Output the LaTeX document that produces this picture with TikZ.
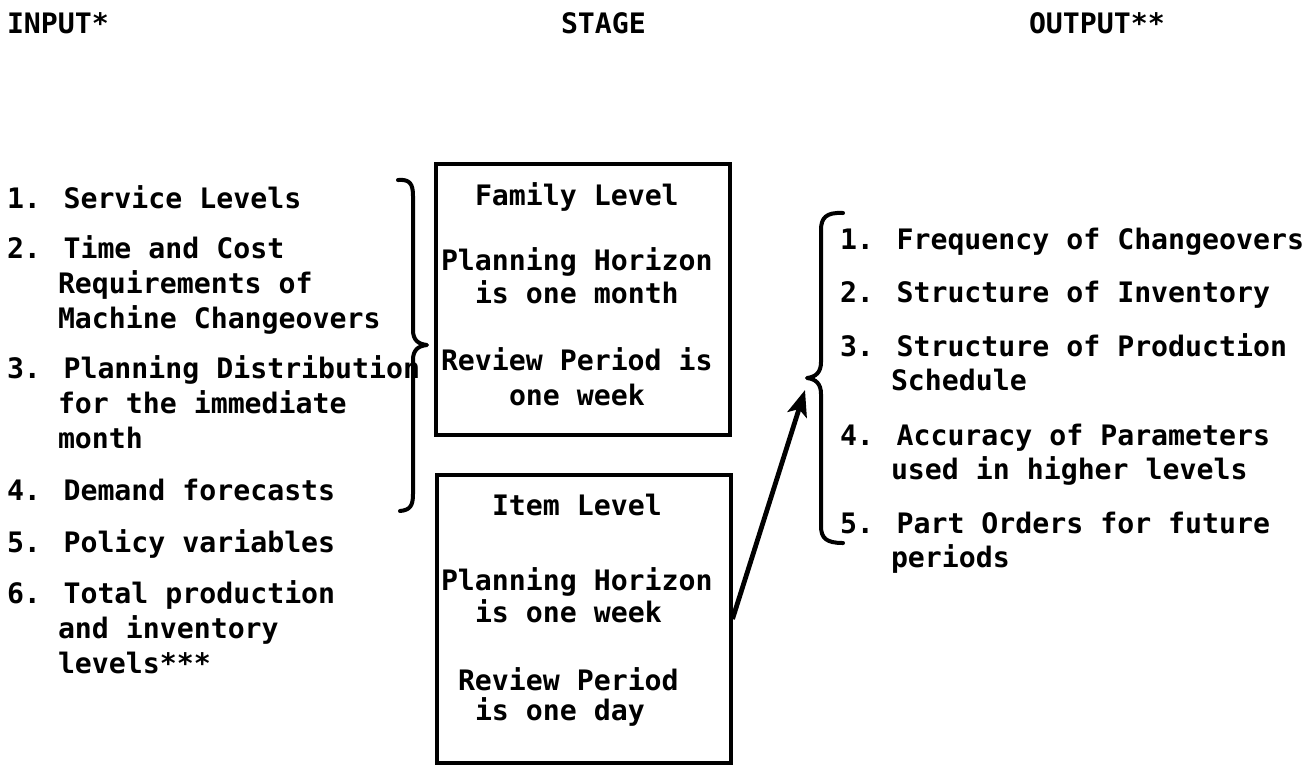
\documentclass[tikz,border=0pt]{standalone}
\usepackage{fontspec}
\usetikzlibrary{arrows.meta}
\newfontfamily\typewriter{DejaVu Sans Mono}
\begin{document}
\begin{tikzpicture}[x=0.5pt,y=-0.5pt,
  txt/.style={anchor=base west, inner sep=0pt, outer sep=0pt,
    font=\typewriter\bfseries\fontsize{14.1}{17}\selectfont},
  stagebox/.style={draw, line width=2pt, inner sep=0pt, minimum width=147pt},
  bracket/.style={line width=2pt, line cap=round, line join=round},
  link/.style={line width=2.4pt, -{Stealth[length=13pt,width=10pt,inset=3pt]}}]

\fill[white] (0,0) rectangle (1316,768);

% column headings
\node[txt] (hin)  at (7,33)    {INPUT*};
\node[txt] (hst)  at (561,33)  {STAGE};
\node[txt] (hout) at (1029,33) {OUTPUT**};

% inputs
\node[txt] (in1)  at (7,208)  {1. Service Levels};
\node[txt] (in2)  at (7,258)  {2. Time and Cost};
\node[txt] (in2b) at (58,293) {Requirements of};
\node[txt] (in2c) at (58,328) {Machine Changeovers};
\node[txt] (in3)  at (7,378)  {3. Planning Distribution};
\node[txt] (in3b) at (58,413) {for the immediate};
\node[txt] (in3c) at (58,448) {month};
\node[txt] (in4)  at (7,500)  {4. Demand forecasts};
\node[txt] (in5)  at (7,552)  {5. Policy variables};
\node[txt] (in6)  at (7,603)  {6. Total production};
\node[txt] (in6b) at (58,638) {and inventory};
\node[txt] (in6c) at (58,673) {levels***};

% stages
\node[stagebox, minimum height=135.5pt] (family) at (583,299.5) {};
\node[stagebox, minimum height=144pt]   (item)   at (583.5,619) {};

\node[txt] (fam1) at (475,205) {Family Level};
\node[txt] (fam2) at (441,270) {Planning Horizon};
\node[txt] (fam3) at (475,303) {is one month};
\node[txt] (fam4) at (441,370) {Review Period is};
\node[txt] (fam5) at (509,405) {one week};

\node[txt] (itm1) at (492,515) {Item Level};
\node[txt] (itm2) at (441,590) {Planning Horizon};
\node[txt] (itm3) at (475,622) {is one week};
\node[txt] (itm4) at (458,690) {Review Period};
\node[txt] (itm5) at (475,720) {is one day};

% outputs
\node[txt] (out1)  at (840,249) {1. Frequency of Changeovers};
\node[txt] (out2)  at (840,302) {2. Structure of Inventory};
\node[txt] (out3)  at (840,356) {3. Structure of Production};
\node[txt] (out3b) at (891,390) {Schedule};
\node[txt] (out4)  at (840,445) {4. Accuracy of Parameters};
\node[txt] (out4b) at (891,479) {used in higher levels};
\node[txt] (out5)  at (840,533) {5. Part Orders for future};
\node[txt] (out5b) at (891,567) {periods};

% brace gathering inputs 1-4
\draw[bracket] (398,180) .. controls (410,179) and (413,184) .. (413,196)
  -- (413,330) .. controls (413,340) and (418,344) .. (427,345)
  .. controls (418,346) and (413,350) .. (413,360)
  -- (413,494) .. controls (413,506) and (410,510) .. (400,511);

% brace gathering the outputs
\coordinate (outtip) at (807,378);
\draw[bracket] (843,213) .. controls (826,212) and (821,218) .. (821,230)
  -- (821,362) .. controls (821,372) and (816,377) .. (outtip)
  .. controls (816,379) and (821,384) .. (821,394)
  -- (821,526) .. controls (821,538) and (826,543) .. (843,543);

% item level feeds the outputs
\coordinate (arrowend) at (805,390);
\draw[link] (item.east) -- (arrowend);

\end{tikzpicture}
\end{document}
